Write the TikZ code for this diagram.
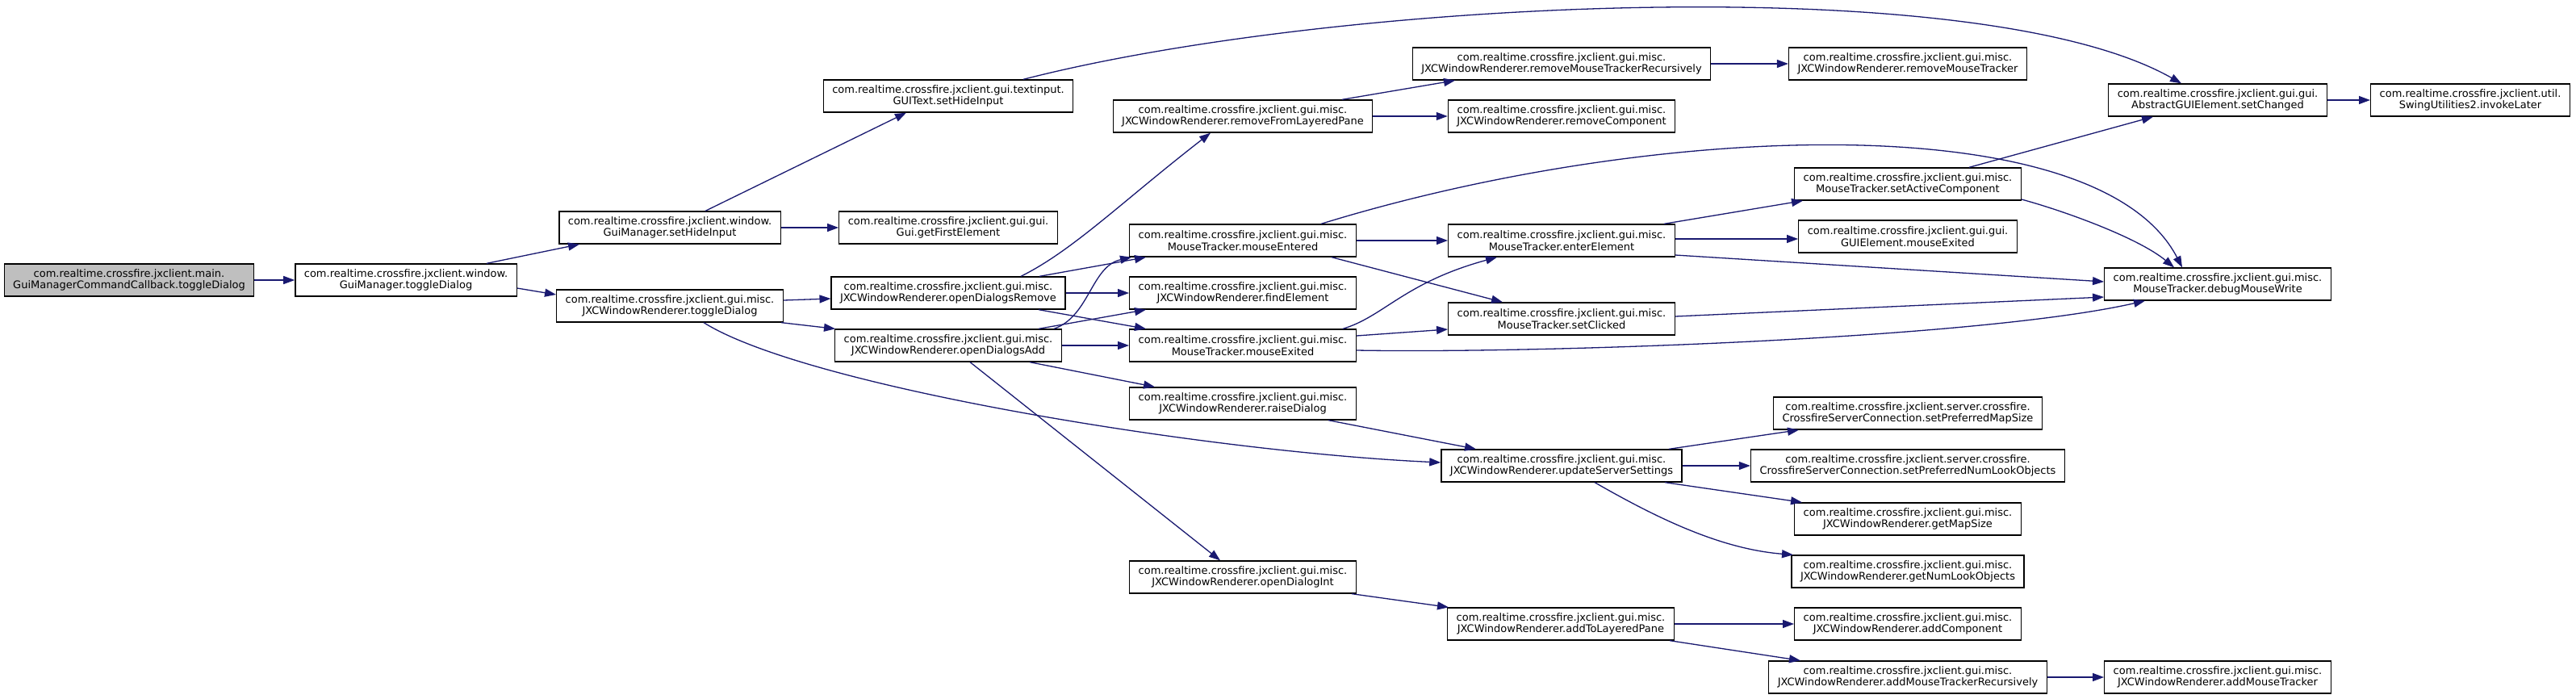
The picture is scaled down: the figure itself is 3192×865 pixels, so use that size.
\documentclass[tikz,border=0pt]{standalone}
\usepackage{fontspec}
\setmainfont{DejaVu Sans}
\usetikzlibrary{arrows.meta,calc}
\definecolor{edgec}{HTML}{191970}
\definecolor{curfill}{HTML}{BFBFBF}
\begin{document}
\begin{tikzpicture}[x=1pt,y=-1pt,
  fn/.style={draw=black, line width=1.3pt, fill=white, align=center, minimum height=40pt, inner xsep=11pt, inner ysep=0pt, font=\fontsize{13}{14.5}\selectfont},
  cur/.style={fn, fill=curfill},
  ed/.style={draw=edgec, line width=1.3pt, -{Triangle[length=14pt,width=10pt]}}]
\fill[white] (0,0) rectangle (3192,865);
\useasboundingbox (0,0) rectangle (3192,865);

\node[cur] (A) at (160,347) {com.realtime.crossfire.jxclient.main.\\GuiManagerCommandCallback.toggleDialog};
\node[fn] (B) at (503,347) {com.realtime.crossfire.jxclient.window.\\GuiManager.toggleDialog};
\node[fn] (C) at (830,282) {com.realtime.crossfire.jxclient.window.\\GuiManager.setHideInput};
\node[fn] (D) at (1175,282) {com.realtime.crossfire.jxclient.gui.gui.\\Gui.getFirstElement};
\node[fn] (E) at (830,379) {com.realtime.crossfire.jxclient.gui.misc.\\JXCWindowRenderer.toggleDialog};
\node[fn] (F) at (1175,363) {com.realtime.crossfire.jxclient.gui.misc.\\JXCWindowRenderer.openDialogsRemove};
\node[fn] (G) at (1175,428) {com.realtime.crossfire.jxclient.gui.misc.\\JXCWindowRenderer.openDialogsAdd};
\node[fn] (H) at (1175,119) {com.realtime.crossfire.jxclient.gui.textinput.\\GUIText.setHideInput};
\node[fn] (I) at (1540,144) {com.realtime.crossfire.jxclient.gui.misc.\\JXCWindowRenderer.removeFromLayeredPane};
\node[fn] (J) at (1540,298) {com.realtime.crossfire.jxclient.gui.misc.\\MouseTracker.mouseEntered};
\node[fn] (K) at (1540,363) {com.realtime.crossfire.jxclient.gui.misc.\\JXCWindowRenderer.findElement};
\node[fn] (L) at (1540,428) {com.realtime.crossfire.jxclient.gui.misc.\\MouseTracker.mouseExited};
\node[fn] (W) at (1540,500) {com.realtime.crossfire.jxclient.gui.misc.\\JXCWindowRenderer.raiseDialog};
\node[fn] (Y) at (1540,715) {com.realtime.crossfire.jxclient.gui.misc.\\JXCWindowRenderer.openDialogInt};
\node[fn] (O) at (1935,79) {com.realtime.crossfire.jxclient.gui.misc.\\JXCWindowRenderer.removeMouseTrackerRecursively};
\node[fn] (Q) at (1935,144) {com.realtime.crossfire.jxclient.gui.misc.\\JXCWindowRenderer.removeComponent};
\node[fn] (M) at (1935,298) {com.realtime.crossfire.jxclient.gui.misc.\\MouseTracker.enterElement};
\node[fn] (N) at (1935,395) {com.realtime.crossfire.jxclient.gui.misc.\\MouseTracker.setClicked};
\node[fn] (X) at (1935,577) {com.realtime.crossfire.jxclient.gui.misc.\\JXCWindowRenderer.updateServerSettings};
\node[fn] (AA) at (1934,773) {com.realtime.crossfire.jxclient.gui.misc.\\JXCWindowRenderer.addToLayeredPane};
\node[fn] (P) at (2364,79) {com.realtime.crossfire.jxclient.gui.misc.\\JXCWindowRenderer.removeMouseTracker};
\node[fn] (R) at (2364,228) {com.realtime.crossfire.jxclient.gui.misc.\\MouseTracker.setActiveComponent};
\node[fn] (U) at (2364,293) {com.realtime.crossfire.jxclient.gui.gui.\\GUIElement.mouseExited};
\node[fn] (Z1) at (2364,512) {com.realtime.crossfire.jxclient.server.crossfire.\\CrossfireServerConnection.setPreferredMapSize};
\node[fn] (Z2) at (2364,577) {com.realtime.crossfire.jxclient.server.crossfire.\\CrossfireServerConnection.setPreferredNumLookObjects};
\node[fn] (Z3) at (2364,643) {com.realtime.crossfire.jxclient.gui.misc.\\JXCWindowRenderer.getMapSize};
\node[fn] (Z4) at (2364,708) {com.realtime.crossfire.jxclient.gui.misc.\\JXCWindowRenderer.getNumLookObjects};
\node[fn] (AB) at (2364,773) {com.realtime.crossfire.jxclient.gui.misc.\\JXCWindowRenderer.addComponent};
\node[fn] (AC) at (2364,839) {com.realtime.crossfire.jxclient.gui.misc.\\JXCWindowRenderer.addMouseTrackerRecursively};
\node[fn] (S) at (2748,124) {com.realtime.crossfire.jxclient.gui.gui.\\AbstractGUIElement.setChanged};
\node[fn] (V) at (2748,352) {com.realtime.crossfire.jxclient.gui.misc.\\MouseTracker.debugMouseWrite};
\node[fn] (AD) at (2748,839) {com.realtime.crossfire.jxclient.gui.misc.\\JXCWindowRenderer.addMouseTracker};
\node[fn] (T) at (3061,124) {com.realtime.crossfire.jxclient.util.\\SwingUtilities2.invokeLater};

\draw[ed] (A.east) -- (B.west);
\draw[ed] ($(B.north)+(100,0)$) -- ($(C.south)+(-112,0)$);
\draw[ed] ($(B.east)+(0,10)$) -- ($(E.west)+(0,-14)$);
\draw[ed] (C.east) -- (D.west);
\draw[ed] ($(C.north)+(44,0)$) -- ($(H.south)+(-52,0)$);
\draw[ed] ($(E.east)+(0,-7)$) -- ($(F.west)+(0,7)$);
\draw[ed] ($(E.south)+(138,0)$) -- ($(G.north)+(-140,0)$);
\draw[ed] ($(E.south)+(42,0)$) .. controls (1000,480) and (1500,560) .. ($(X.west)+(0,-4)$);
\draw[ed] ($(F.north)+(90,0)$) .. controls (1330,310) and (1390,250) .. ($(I.south)+(-40,0)$);
\draw[ed] ($(F.north)+(113,0)$) -- ($(J.south)+(-120,0)$);
\draw[ed] (F.east) -- (K.west);
\draw[ed] ($(F.south)+(112,0)$) -- ($(L.north)+(-120,0)$);
\draw[ed] ($(G.north)+(131,0)$) .. controls (1350,392) and (1352,330) .. ($(J.south)+(-138,0)$);
\draw[ed] ($(G.north)+(112,0)$) -- ($(K.south)+(-120,0)$);
\draw[ed] (G.east) -- (L.west);
\draw[ed] ($(G.south)+(101,0)$) -- ($(W.north)+(-109,0)$);
\draw[ed] ($(G.south)+(27,0)$) -- ($(Y.north)+(-28,0)$);
\draw[ed] (J.east) -- (M.west);
\draw[ed] ($(J.south)+(110,0)$) -- ($(N.north)+(-73,0)$);
\draw[ed] ($(J.north)+(97,0)$) .. controls (2050,150) and (2600,130) .. ($(V.north)+(-44,0)$);
\draw[ed] ($(L.north)+(124,0)$) .. controls (1715,392) and (1740,350) .. ($(M.south)+(-80,0)$);
\draw[ed] ($(L.east)+(0,-12)$) -- ($(N.west)+(0,13)$);
\draw[ed] ($(L.east)+(0,6)$) .. controls (1900,438) and (2450,420) .. ($(V.south)+(-90,0)$);
\draw[ed] ($(M.north)+(127,0)$) -- ($(R.south)+(-130,0)$);
\draw[ed] ($(M.east)+(0,-2)$) -- ($(U.west)+(0,3)$);
\draw[ed] ($(M.east)+(0,18)$) -- ($(V.west)+(0,-3)$);
\draw[ed] ($(N.east)+(0,-3)$) -- ($(V.west)+(0,16)$);
\draw[ed] ($(R.north)+(76,0)$) -- ($(S.south)+(-80,0)$);
\draw[ed] ($(R.east)+(0,19)$) .. controls (2560,262) and (2650,295) .. ($(V.north)+(-54,0)$);
\draw[ed] (S.east) -- (T.west);
\draw[ed] ($(H.north)+(93,0)$) .. controls (1650,0) and (2450,-40) .. ($(S.north)+(-45,0)$);
\draw[ed] ($(I.north)+(123,0)$) -- ($(O.south)+(-132,0)$);
\draw[ed] (I.east) -- (Q.west);
\draw[ed] (O.east) -- (P.west);
\draw[ed] ($(W.south)+(106,0)$) -- ($(X.north)+(-106,0)$);
\draw[ed] ($(X.north)+(133,0)$) -- ($(Z1.south)+(-135,0)$);
\draw[ed] (X.east) -- (Z2.west);
\draw[ed] ($(X.south)+(128,0)$) -- ($(Z3.north)+(-131,0)$);
\draw[ed] ($(X.south)+(41,0)$) .. controls (2050,640) and (2130,680) .. ($(Z4.north)+(-142,0)$);
\draw[ed] ($(Y.south)+(135,0)$) -- ($(AA.north)+(-139,0)$);
\draw[ed] (AA.east) -- (AB.west);
\draw[ed] ($(AA.south)+(135,0)$) -- ($(AC.north)+(-133,0)$);
\draw[ed] (AC.east) -- (AD.west);
\end{tikzpicture}
\end{document}
